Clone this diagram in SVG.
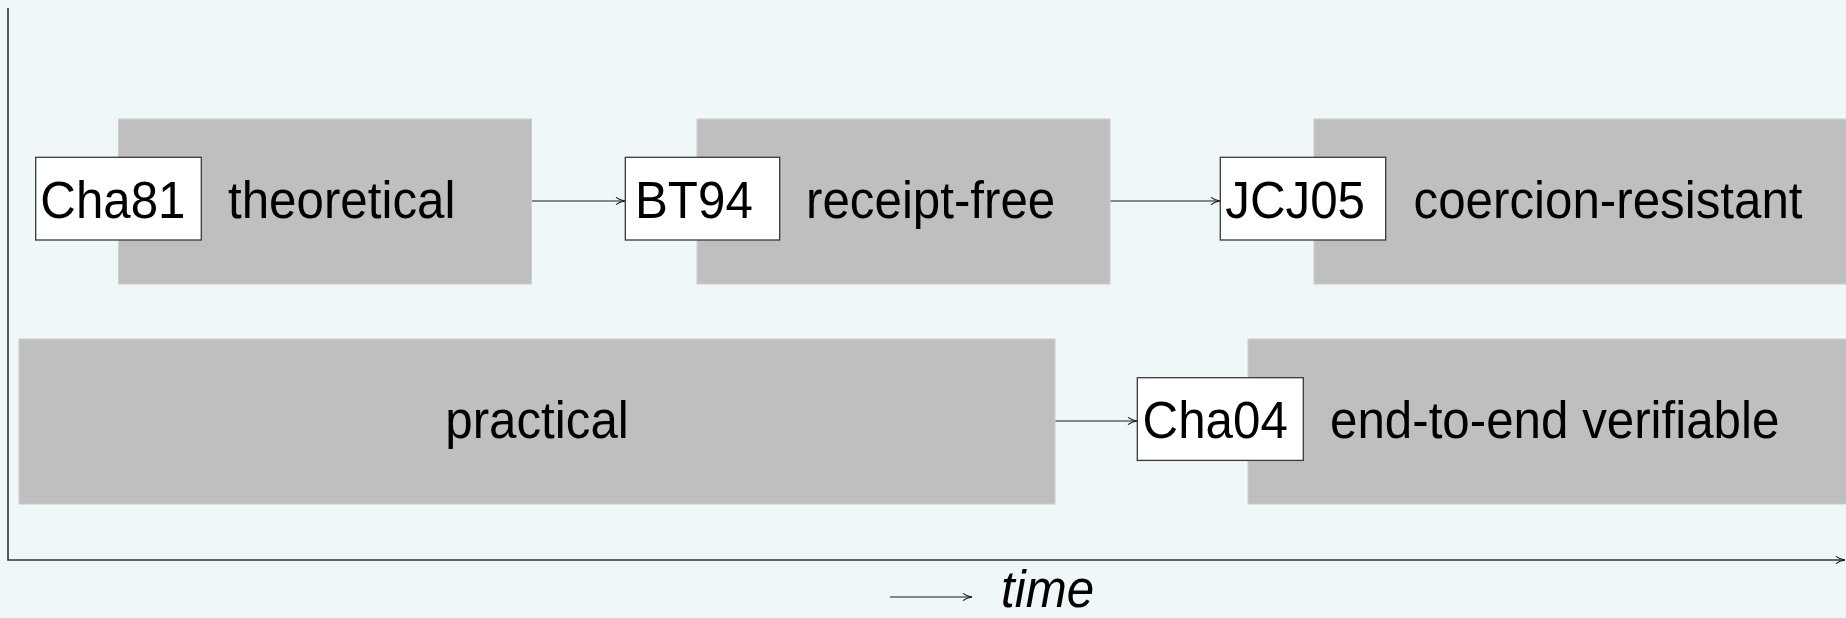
<svg xmlns="http://www.w3.org/2000/svg" width="1846" height="618" viewBox="0 0 1846 618">
  <style>
    .era { fill: #bfbfbf; stroke: #cdcdcd; stroke-width: 1; }
    .ref { fill: #ffffff; stroke: #3a3a3a; stroke-width: 1.3; }
    .lbl { font-family: "Liberation Sans", Arial, sans-serif; font-size: 51px; fill: #000; }
    .link { stroke: #1a1a1a; stroke-width: 1.2; fill: none; }
    .axis { stroke: #333; stroke-width: 1.6; fill: none; }
  </style>
  <defs>
    <marker id="tip" markerUnits="userSpaceOnUse" markerWidth="14" markerHeight="10" viewBox="-11 -5 12 10" refX="0" refY="0" orient="auto">
      <path d="M-9,-3.6 C-6,-1.2 -2,-0.3 0,0 C-2,0.3 -6,1.2 -9,3.6" stroke="#1a1a1a" stroke-width="1.2" fill="none"/>
    </marker>
  </defs>

  <rect width="1846" height="618" fill="#eff7f9"/>

  <!-- axes -->
  <g id="axes">
    <path class="axis" d="M8,8 V560 H1845" marker-end="url(#tip)"/>
  </g>

  <!-- era blocks -->
  <g id="theoretical">
    <rect class="era" x="118.5" y="119" width="413" height="165"/>
    <text class="lbl" x="228" y="218.3" textLength="227.4" lengthAdjust="spacingAndGlyphs">theoretical</text>
  </g>
  <g id="receipt-free">
    <rect class="era" x="697" y="119" width="413" height="165"/>
    <text class="lbl" x="806" y="218.3" textLength="249.3" lengthAdjust="spacingAndGlyphs">receipt-free</text>
  </g>
  <g id="coercion-resistant">
    <rect class="era" x="1314" y="119" width="540" height="165"/>
    <text class="lbl" x="1413.5" y="218.3" textLength="389" lengthAdjust="spacingAndGlyphs">coercion-resistant</text>
  </g>
  <g id="practical">
    <rect class="era" x="19" y="339" width="1036" height="165"/>
    <text class="lbl" x="537" y="438.3" text-anchor="middle" textLength="183.5" lengthAdjust="spacingAndGlyphs">practical</text>
  </g>
  <g id="end-to-end-verifiable">
    <rect class="era" x="1248" y="339" width="606" height="165"/>
    <text class="lbl" x="1330" y="438.3" textLength="449.4" lengthAdjust="spacingAndGlyphs">end-to-end verifiable</text>
  </g>

  <!-- reference boxes -->
  <g id="Cha81">
    <rect class="ref" x="35.7" y="157.3" width="165.6" height="82.7"/>
    <text class="lbl" x="40.3" y="218.3" textLength="145.2" lengthAdjust="spacingAndGlyphs">Cha81</text>
  </g>
  <g id="BT94">
    <rect class="ref" x="625.3" y="157.3" width="154.4" height="82.7"/>
    <text class="lbl" x="635" y="218.3" textLength="117.8" lengthAdjust="spacingAndGlyphs">BT94</text>
  </g>
  <g id="JCJ05">
    <rect class="ref" x="1220.3" y="157.3" width="165.4" height="82.7"/>
    <text class="lbl" x="1225.3" y="218.3" textLength="139.7" lengthAdjust="spacingAndGlyphs">JCJ05</text>
  </g>
  <g id="Cha04">
    <rect class="ref" x="1137.3" y="377.7" width="166" height="82.7"/>
    <text class="lbl" x="1142.6" y="438.3" textLength="145.2" lengthAdjust="spacingAndGlyphs">Cha04</text>
  </g>

  <!-- connectors -->
  <g id="connectors">
    <path class="link" d="M532,201 H625" marker-end="url(#tip)"/>
    <path class="link" d="M1110.5,201 H1220" marker-end="url(#tip)"/>
    <path class="link" d="M1055.5,421 H1137" marker-end="url(#tip)"/>
  </g>

  <!-- time legend -->
  <g id="time-legend">
    <path class="link" d="M890,597 H972" marker-end="url(#tip)"/>
    <text class="lbl" x="1001" y="607" font-style="italic" textLength="93.1" lengthAdjust="spacingAndGlyphs">time</text>
  </g>
</svg>
